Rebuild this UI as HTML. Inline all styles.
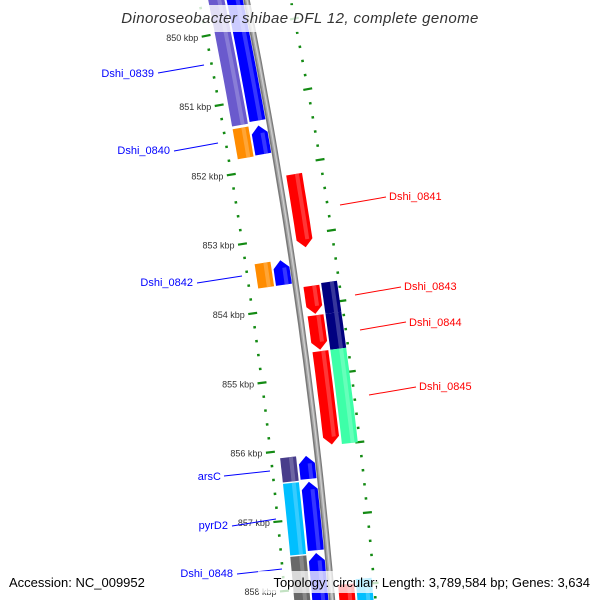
<!DOCTYPE html>
<html><head><meta charset="utf-8"><style>
html,body{margin:0;padding:0;background:#fff;width:600px;height:600px;overflow:hidden;}
svg{display:block;font-family:"Liberation Sans",sans-serif;overflow:hidden;}
</style></head><body>
<svg id="map" width="600" height="600" viewBox="0 0 600 600">
<g id="ticks"></g>
<g id="backbone"></g>
<g id="genes"></g>
<g id="tickLabels"></g>
<g font-size="11">
 <g fill="#0000ff" stroke="#0000ff">
  <text x="154" y="77" text-anchor="end" stroke="none">Dshi_0839</text>
  <line x1="158" y1="73" x2="204" y2="65" stroke-width="1"/>
  <text x="170" y="154" text-anchor="end" stroke="none">Dshi_0840</text>
  <line x1="174" y1="151" x2="218" y2="143" stroke-width="1"/>
  <text x="193" y="286" text-anchor="end" stroke="none">Dshi_0842</text>
  <line x1="197" y1="283" x2="242" y2="276" stroke-width="1"/>
  <text x="221" y="480" text-anchor="end" stroke="none">arsC</text>
  <line x1="224" y1="476" x2="270" y2="471" stroke-width="1"/>
  <text x="228" y="529" text-anchor="end" stroke="none">pyrD2</text>
  <line x1="232" y1="526" x2="276" y2="519" stroke-width="1"/>
  <text x="233" y="577" text-anchor="end" stroke="none">Dshi_0848</text>
  <line x1="237" y1="574" x2="282" y2="569" stroke-width="1"/>
 </g>
 <g fill="#ff0000" stroke="#ff0000">
  <line x1="340" y1="205" x2="386" y2="197" stroke-width="1"/>
  <text x="389" y="200" stroke="none">Dshi_0841</text>
  <line x1="355" y1="295" x2="401" y2="287" stroke-width="1"/>
  <text x="404" y="290" stroke="none">Dshi_0843</text>
  <line x1="360" y1="330" x2="406" y2="322" stroke-width="1"/>
  <text x="409" y="326" stroke="none">Dshi_0844</text>
  <line x1="369" y1="395" x2="416" y2="387" stroke-width="1"/>
  <text x="419" y="390" stroke="none">Dshi_0845</text>
 </g>
</g>
<rect x="122" y="5" width="354" height="27" fill="#fff" fill-opacity="0.8"/>
<text x="300" y="23" text-anchor="middle" font-size="15" letter-spacing="0.4" font-style="italic" fill="#333">Dinoroseobacter shibae DFL 12, complete genome</text>
<text x="9" y="587" font-size="13" fill="#000">Accession: NC_009952</text>
<rect x="258" y="571" width="336" height="22" fill="#fff" fill-opacity="0.75"/>
<text x="590" y="587" text-anchor="end" font-size="13" fill="#000">Topology: circular; Length: 3,789,584 bp; Genes: 3,634</text>
</svg>
<script>
// ---- data ----
const geneNames   = ["Dshi_0839","Dshi_0840","Dshi_0842","arsC","pyrD2","Dshi_0848",
                     "Dshi_0839","Dshi_0840","Dshi_0842","arsC","pyrD2","Dshi_0848",
                     "Dshi_0841","Dshi_0843","Dshi_0844","Dshi_0845","next-rev",
                     "Dshi_0843","Dshi_0844","Dshi_0845","next-cog"];
const geneStarts  = [849.4,851.37,853.31,856.10,856.47,857.52,
                     849.4,851.38,853.31,856.11,856.48,857.50,
                     852.14,853.73,854.15,854.66,857.98,
                     853.71,854.15,854.66,857.92];
const geneEnds    = [851.33,851.80,853.66,856.45,857.50,858.5,
                     851.31,851.79,853.66,856.44,857.46,858.5,
                     853.18,854.13,854.64,855.99,858.5,
                     854.15,854.66,856.00,858.5];
const geneTracks  = [0,0,0,0,0,0, 1,1,1,1,1,1, 2,2,2,2,2, 3,3,3,3];
const geneColors  = ["#6a5acd","#ff8c00","#ff8c00","#483d8b","#00bfff","#696969",
                     "#0000ff","#0000ff","#0000ff","#0000ff","#0000ff","#0000ff",
                     "#ff0000","#ff0000","#ff0000","#ff0000","#ff0000",
                     "#000080","#000080","#3dffa8","#00bfff"];
const geneArrows  = ["","","","","","", "","up","up","up","up","up",
                     "down","down","down","down","", "","","",""];
const tickKbp     = [850,851,852,853,854,855,856,857,858];
const tickLabels  = ["850 kbp","851 kbp","852 kbp","853 kbp","854 kbp","855 kbp","856 kbp","857 kbp","858 kbp"];

// ---- geometry ----
const CX=-5049, CY=1060, R0=5400;
const trackR=[[-37,-21],[-19,-3],[8,24],[26,42]];
function angle(k){ const yb=97+(k-851)*70; return Math.asin((yb-CY)/R0); }
function pt(k,d){ const a=angle(k), r=R0+d; return [CX+r*Math.cos(a), CY+r*Math.sin(a)]; }
const NS="http://www.w3.org/2000/svg";
function el(tag,attrs,parent){const e=document.createElementNS(NS,tag);for(const k in attrs)e.setAttribute(k,attrs[k]);parent.appendChild(e);return e;}
function poly(pts){return pts.map(p=>p[0].toFixed(1)+","+p[1].toFixed(1)).join(" ");}

// backbone
const bb=document.getElementById("backbone");
[[3.2,"#7a7a7a"],[1.8,"#a8a8a8"],[0.6,"#d0d0d0"]].forEach(([w,c],i)=>{
  const pts=[];for(let k=849.5;k<=858.5;k+=0.25)pts.push(pt(k,0.6+i*0.2));
  const p=el("polyline",{points:poly(pts),fill:"none",stroke:c,"stroke-width":w*2},bb);
  
  
});

// ticks
const tk=document.getElementById("ticks");
for(let i=0;i<=45;i++){
  const k=849.6+i*0.2, major=Math.abs(k-Math.round(k))<0.01;
  [-46,44].forEach(d=>{
    const half=major?4.5:1.3;
    const a=pt(k,d-half), b=pt(k,d+half);
    const l=el("line",{x1:a[0],y1:a[1],x2:b[0],y2:b[1],stroke:"#138a13","stroke-width":major?2.2:2.4},tk);
    
    
  });
}
const tl=document.getElementById("tickLabels");
tickKbp.forEach((k,i)=>{
  const p=pt(k,-54);
  const t=el("text",{x:p[0].toFixed(1),y:(p[1]+3.5).toFixed(1),"text-anchor":"end","font-size":"9",fill:"#333"},tl);
  t.textContent=tickLabels[i];
  
  
});

// genes
const gg=document.getElementById("genes");
function lighten(hex,f){const n=parseInt(hex.slice(1),16);let r=n>>16,g=(n>>8)&255,b=n&255;
  r=Math.round(r+(255-r)*f);g=Math.round(g+(255-g)*f);b=Math.round(b+(255-b)*f);return `rgb(${r},${g},${b})`;}
geneNames.forEach((nm,i)=>{
  const [r1,r2]=trackR[geneTracks[i]], s=geneStarts[i], e=geneEnds[i], arr=geneArrows[i];
  const head=0.11, mid=(r1+r2)/2;
  let bs=s, be=e;
  if(arr==="up") bs=Math.min(s+head,e);
  if(arr==="down") be=Math.max(e-head,s);
  const n=8, outer=[], inner=[];
  for(let j=0;j<=n;j++){const k=bs+(be-bs)*j/n; outer.push(pt(k,r2)); inner.push(pt(k,r1));}
  let pts=[];
  if(arr==="up"){ pts=[pt(s,mid),...outer,...inner.reverse()]; }
  else if(arr==="down"){ pts=[...outer,pt(e,mid),...inner.reverse()]; }
  else pts=[...outer,...inner.reverse()];
  const g=el("polygon",{points:poly(pts),fill:geneColors[i]},gg);
  
  
  const hs=[],hl=[];const q1=r1+(r2-r1)*0.55,q2=r1+(r2-r1)*0.8;
  for(let j=0;j<=n;j++){const k=bs+(be-bs)*j/n; hs.push(pt(k,q2)); hl.push(pt(k,q1));}
  const h=el("polygon",{points:poly([...hs,...hl.reverse()]),fill:lighten(geneColors[i],0.3),"fill-opacity":"0.7"},gg);
  
  
});
</script>
</body></html>
